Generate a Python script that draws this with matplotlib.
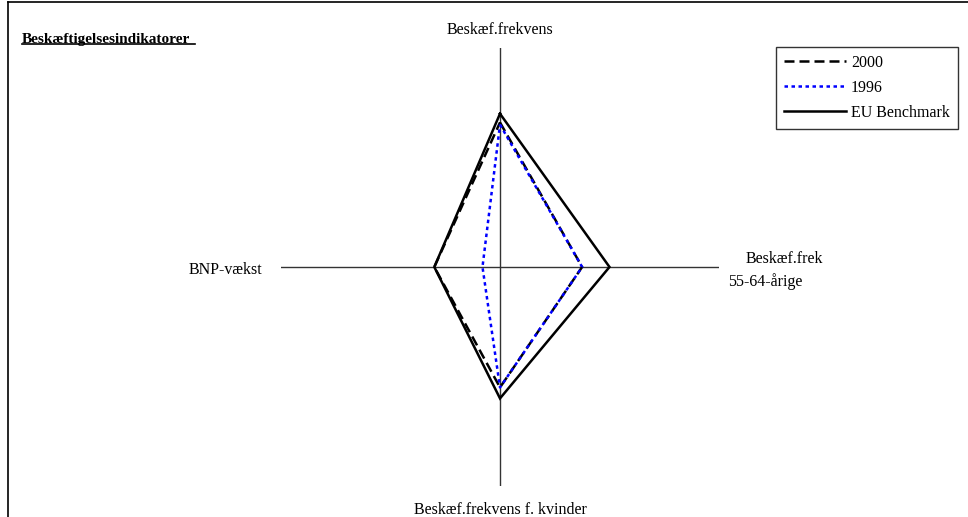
import matplotlib.pyplot as plt
from matplotlib.lines import Line2D
import numpy as np

plt.rcParams['font.family'] = ['Liberation Serif', 'DejaVu Serif']

# akser: top, hoejre, bund, venstre (med uret)
axes_labels = ['Beskæf.frekvens', 'Beskæf.frek\n55-64-årige', 'Beskæf.frekvens f. kvinder', 'BNP-vækst']
values_2000 = [66, 37.5, 55, 30]
values_1996 = [65, 37.5, 55, 8]
values_eu = [70, 50, 60, 30]
series_names = ['2000', '1996', 'EU Benchmark']

W, H = 968, 517
fig = plt.figure(figsize=(W / 100, H / 100), dpi=100)

# ramme rundt om figuren
fig.add_artist(Line2D([8 / W, 8 / W], [0, 1 - 2 / H], color='black', lw=1.2))
fig.add_artist(Line2D([8 / W, 1], [1 - 2 / H, 1 - 2 / H], color='black', lw=1.2))

cx, cy, R = 500, 267, 219
ax = fig.add_axes([(cx - R) / W, (H - cy - R) / H, 2 * R / W, 2 * R / H])
ax.set_xlim(-100, 100)
ax.set_ylim(-100, 100)
ax.axis('off')

# akselinjer
ax.plot([-100, 100], [0, 0], color='#333333', lw=1.0)
ax.plot([0, 0], [-100, 100], color='#333333', lw=1.0)

theta = np.array([0, 0.5, 1.0, 1.5]) * np.pi


def to_xy(vals):
    v = np.array(vals + vals[:1], dtype=float)
    t = np.append(theta, theta[0])
    return v * np.sin(t), v * np.cos(t)


x, y = to_xy(values_eu)
l_eu, = ax.plot(x, y, color='black', lw=1.8, solid_joinstyle='miter')
x, y = to_xy(values_2000)
l_00, = ax.plot(x, y, color='black', lw=1.8, linestyle=(0, (4, 2)))
x, y = to_xy(values_1996)
l_96, = ax.plot(x, y, color='#0000ff', lw=1.8, linestyle=(0, (1.4, 1.4)))

# aksetekster
fs = 11.5
fig.text(500 / W, 1 - 30 / H, axes_labels[0], ha='center', va='center', fontsize=fs)
fig.text(746 / W, 1 - 259 / H, 'Beskæf.frek', ha='left', va='center', fontsize=fs)
fig.text(728 / W, 1 - 282 / H, '55-64-årige', ha='left', va='center', fontsize=fs)
fig.text(500 / W, 1 - 510 / H, axes_labels[2], ha='center', va='center', fontsize=fs)
fig.text(262 / W, 1 - 270 / H, axes_labels[3], ha='right', va='center', fontsize=fs)

# titel med understregning
t = fig.text(22 / W, 1 - 39 / H, 'Beskæftigelsesindikatorer', ha='left', va='center',
             fontsize=11, fontweight='bold')
fig.add_artist(Line2D([22 / W, 195 / W], [1 - 44 / H, 1 - 44 / H], color='black', lw=1.2))

leg = fig.legend([l_00, l_96, l_eu], series_names, loc='upper left',
                 bbox_to_anchor=(776 / W, 1 - 47 / H), frameon=True, fancybox=False,
                 edgecolor='black', fontsize=fs, handlelength=3.9, handletextpad=0.3,
                 labelspacing=0.55, borderpad=0.5, borderaxespad=0)
leg.get_frame().set_linewidth(1.0)

fig.savefig('out.png', dpi=100)
